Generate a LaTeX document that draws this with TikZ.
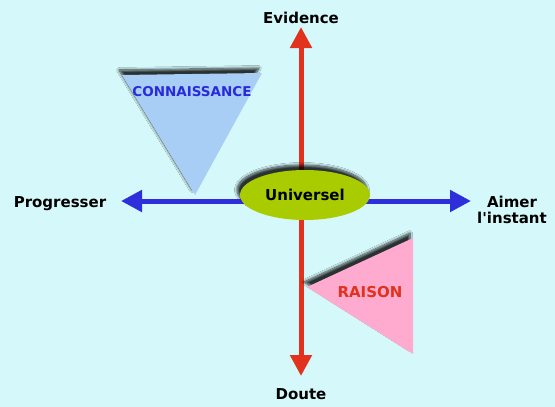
\documentclass[tikz,border=0pt]{standalone}
\usepackage{fontspec}
\setmainfont{DejaVu Sans}
\usetikzlibrary{arrows.meta,shapes.geometric,shadows.blur}
\definecolor{bgc}{HTML}{D5F9FA}
\definecolor{redax}{HTML}{E0321C}
\definecolor{blueax}{HTML}{2E2EDB}
\definecolor{ellc}{HTML}{A8CC00}
\definecolor{triblue}{HTML}{A9CEF6}
\definecolor{tripink}{HTML}{FFABD0}
\definecolor{txtblue}{HTML}{2A2ADB}
\definecolor{txtred}{HTML}{E0321C}
\tikzset{
  lbl/.style={font=\bfseries\fontsize{15}{16}\selectfont, text=black, align=center, inner sep=0pt},
  redarrow/.style={draw=redax, line width=5pt, -{Triangle[length=21pt,width=21pt]}},
  bluearrow/.style={draw=blueax, line width=5pt, -{Triangle[length=21pt,width=21pt]}},
  shad/.style={blur shadow={shadow xshift=-3pt, shadow yshift=5pt, shadow blur radius=2.5pt, shadow blur steps=10, shadow opacity=80}},
}
\begin{document}
\begin{tikzpicture}[x=1pt,y=-1pt]
\fill[bgc] (0,0) rectangle (555,407);
\useasboundingbox (0,0) rectangle (555,407);
% axes
\coordinate (c) at (301,201);
\coordinate (top) at (301,27);
\coordinate (bot) at (301,376);
\coordinate (lft) at (121,201);
\coordinate (rgt) at (471,201);
\draw[redarrow] (c) -- (top);
\draw[redarrow] (c) -- (bot);
\draw[bluearrow] (c) -- (lft);
\draw[bluearrow] (c) -- (rgt);
% triangles
\path[fill=triblue, shad] (122,75) -- (262,73) -- (195,195) -- cycle;
\node[font=\bfseries\fontsize{13.5}{15}\selectfont, text=txtblue] (con) at (192,92) {CONNAISSANCE};
\path[fill=tripink, shad] (307,287) -- (413,238) -- (413,354) -- cycle;
\node[font=\bfseries\fontsize{15}{16}\selectfont, text=txtred] (rai) at (370,292) {RAISON};
% ellipse
\node[ellipse, fill=ellc, minimum width=130pt, minimum height=50pt, shad,
      font=\bfseries\fontsize{15}{16}\selectfont] (u) at (305,195) {Universel};
% labels
\node[lbl] (ev) at (301,17.5) {Evidence};
\node[lbl] (dt) at (301,394) {Doute};
\node[lbl] (pr) at (60,204) {Progresser};
\node[lbl] (ai) at (512,210) {Aimer\\l\textquotesingle instant};
\end{tikzpicture}
\end{document}
